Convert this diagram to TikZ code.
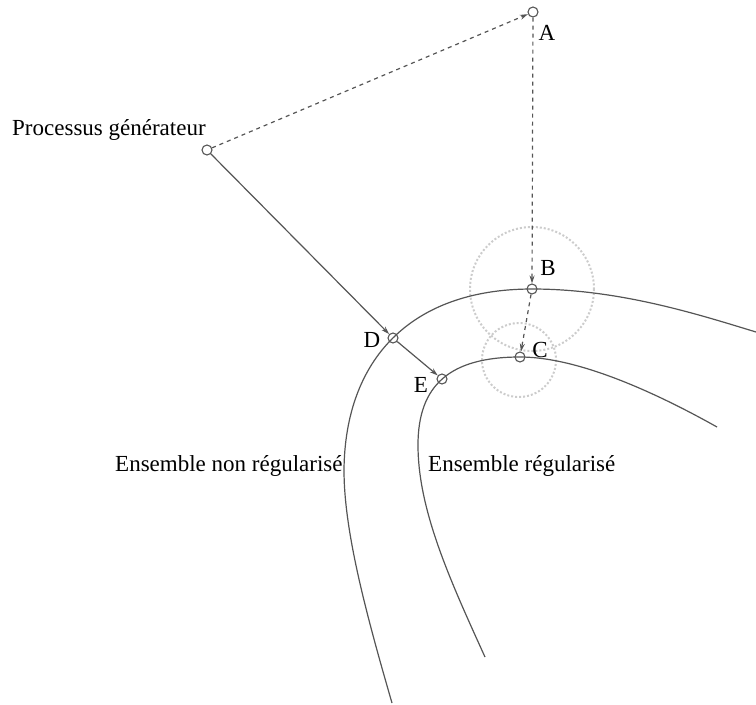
\documentclass[tikz,border=0pt]{standalone}
\usepackage{fontspec}
\setmainfont{Liberation Serif}
\usetikzlibrary{arrows.meta}
\definecolor{ink}{HTML}{555555}
\definecolor{halo}{HTML}{CCCCCC}
\begin{document}
\begin{tikzpicture}[x=1pt,y=-1pt,
  pt/.style={circle,draw=ink,line width=1.1pt,inner sep=0pt,minimum size=10pt},
  lbl/.style={font=\fontsize{23}{26}\selectfont,text=black,inner sep=0pt},
  curve/.style={draw=ink,line width=1.2pt},
  link/.style={draw=ink,line width=1.2pt,-{Stealth[length=8pt,width=5pt]}},
  dlink/.style={link,dash pattern=on 4pt off 4pt},
  zone/.style={draw=halo,line width=2pt,dotted}]
\useasboundingbox (0,0) rectangle (756,705);

% neighbourhoods around the two projections
\draw[zone] (532,289) circle[radius=62];
\draw[zone] (519,360) circle[radius=37];

% the two sets
\draw[curve] (392,703) .. controls (365,610) and (344,530) .. (344,470)
  .. controls (345,360) and (410,289) .. (532,289)
  .. controls (620,289) and (700,315) .. (756,332);
\draw[curve] (485,657) .. controls (450,580) and (418,510) .. (418,445)
  .. controls (418,385) and (450,357) .. (520,357)
  .. controls (580,357) and (660,395) .. (717,427);

% points
\node[pt] (P) at (207,150) {};
\node[pt] (A) at (533,12) {};
\node[pt] (B) at (532,289) {};
\node[pt] (C) at (520,357) {};
\node[pt] (D) at (393,338) {};
\node[pt] (E) at (442,379) {};

% labels
\node[lbl,anchor=west] (lP) at (12,130) {Processus générateur};
\node[lbl] (lA) at (547,33) {A};
\node[lbl] (lB) at (548,268) {B};
\node[lbl] (lC) at (540,350) {C};
\node[lbl] (lD) at (372,340) {D};
\node[lbl] (lE) at (421,385) {E};
\node[lbl,anchor=west] (lN) at (115,466) {Ensemble non régularisé};
\node[lbl,anchor=west] (lR) at (428,466) {Ensemble régularisé};

% connectors
\draw[dlink] (P) -- (A);
\draw[dlink] (A) -- (B);
\draw[dlink] (B) -- (C);
\draw[link] (P) -- (D);
\draw[link] (D) -- (E);
\end{tikzpicture}
\end{document}
